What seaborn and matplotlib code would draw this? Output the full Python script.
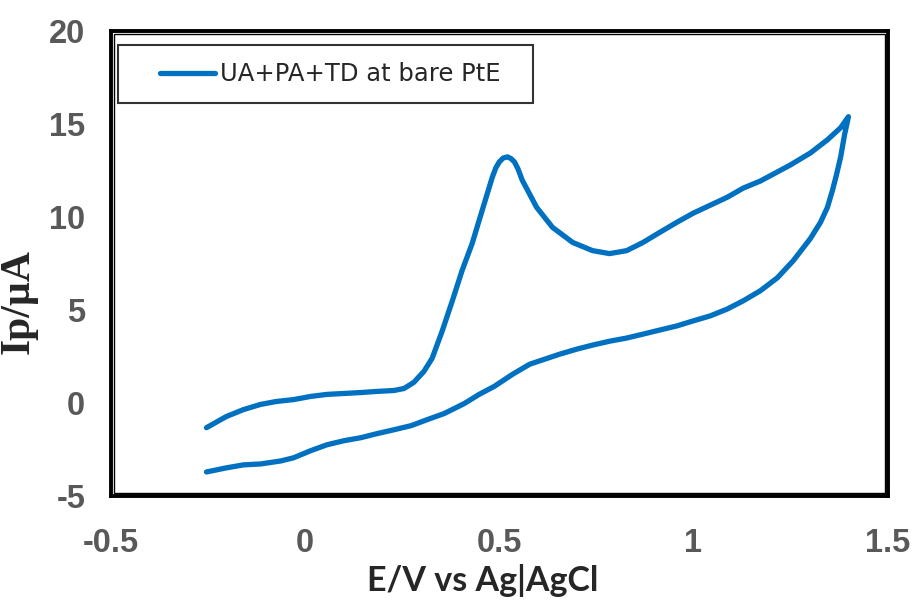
import pandas as pd
import matplotlib.pyplot as plt
import seaborn as sns
from matplotlib.patches import Rectangle
from matplotlib.lines import Line2D
from matplotlib.legend_handler import HandlerLine2D

# forward (anodic) scan
fwd_e = [-0.254, -0.203, -0.159, -0.115, -0.074, -0.030, 0.014, 0.056, 0.100, 0.143,
         0.185, 0.229, 0.255, 0.280, 0.306, 0.327, 0.353, 0.379, 0.404, 0.430,
         0.456, 0.482, 0.491, 0.500, 0.510, 0.521, 0.530, 0.539, 0.548, 0.559,
         0.596, 0.637, 0.689, 0.740, 0.784, 0.828, 0.870, 0.913, 0.957, 0.999,
         1.043, 1.087, 1.128, 1.172, 1.249, 1.301, 1.345, 1.379, 1.399]
fwd_i = [-1.32, -0.72, -0.35, -0.07, 0.09, 0.19, 0.36, 0.47, 0.52, 0.57,
         0.63, 0.68, 0.79, 1.12, 1.71, 2.41, 3.88, 5.50, 7.12, 8.58,
         10.37, 12.15, 12.65, 12.97, 13.18, 13.24, 13.15, 12.97, 12.60, 11.99,
         10.53, 9.45, 8.64, 8.20, 8.04, 8.20, 8.64, 9.18, 9.72, 10.21,
         10.64, 11.07, 11.56, 11.94, 12.80, 13.45, 14.16, 14.81, 15.40]

# reverse scan
rev_e = [1.389, 1.379, 1.368, 1.358, 1.345, 1.327, 1.301, 1.257, 1.216, 1.172,
         1.128, 1.087, 1.043, 0.999, 0.957, 0.913, 0.870, 0.828, 0.784, 0.740,
         0.699, 0.655, 0.578, 0.534, 0.487, 0.448, 0.410, 0.384, 0.358, 0.314,
         0.273, 0.229, 0.185, 0.143, 0.100, 0.056, 0.014, -0.030, -0.063, -0.115,
         -0.159, -0.203, -0.254]
rev_i = [14.43, 13.24, 12.26, 11.45, 10.53, 9.72, 8.85, 7.66, 6.74, 6.04,
         5.50, 5.06, 4.69, 4.42, 4.15, 3.93, 3.71, 3.50, 3.33, 3.12,
         2.90, 2.63, 2.09, 1.55, 0.90, 0.47, -0.02, -0.29, -0.56, -0.89,
         -1.21, -1.43, -1.64, -1.86, -2.02, -2.24, -2.56, -2.94, -3.11, -3.27,
         -3.32, -3.48, -3.70]

xticks = [-0.5, 0, 0.5, 1, 1.5]
xticklabels = ["-0.5", "0", "0.5", "1", "1.5"]
yticks = [-5, 0, 5, 10, 15, 20]
series_name = "UA+PA+TD at bare PtE"

df = pd.DataFrame({
    "E": fwd_e + rev_e,
    "I": fwd_i + rev_i,
    "series": series_name,
})

sns.set_style("white")
plt.rcParams["font.family"] = ["Liberation Sans", "DejaVu Sans"]
plt.rcParams["axes.unicode_minus"] = False

fig = plt.figure(figsize=(9.17, 6.11), dpi=100)
ax = fig.add_axes([0.121, 0.188, 0.847, 0.761])

sns.lineplot(data=df, x="E", y="I", hue="series", sort=False, estimator=None,
             palette=["#0070C0"], linewidth=3.8, ax=ax,
             solid_capstyle="round", solid_joinstyle="round")

ax.set_xlim(-0.5, 1.5)
ax.set_ylim(-5, 20)
ax.set_xticks(xticks)
ax.set_xticklabels(xticklabels)
ax.set_yticks(yticks)
ax.tick_params(axis="both", length=0, labelsize=23.5, labelcolor="#595959")
ax.tick_params(axis="x", pad=23)
ax.tick_params(axis="y", pad=18.5)
for lab in ax.get_xticklabels() + ax.get_yticklabels():
    lab.set_fontweight("bold")

# double frame like the original
for sp in ax.spines.values():
    sp.set_visible(True)
    sp.set_color("black")
    sp.set_linewidth(2.8)
ax.add_patch(Rectangle((0.004, 0.007), 0.992, 0.986, transform=ax.transAxes,
                       fill=False, edgecolor="black", linewidth=1, zorder=5))

ax.set_xlabel("E/V vs Ag|AgCl", fontsize=24.5, fontweight="bold", family="Lato")
ax.set_ylabel("Ip/µA", fontsize=30, fontweight="bold", family="Liberation Serif")
ax.xaxis.set_label_coords(0.479, -0.146)
ax.yaxis.set_label_coords(-0.094, 0.419)

handles, labels = ax.get_legend_handles_labels()
leg = ax.legend(handles, [series_name + "  "], loc="upper left",
                bbox_to_anchor=(0.009, 0.97), frameon=True, fancybox=False,
                edgecolor="black", handlelength=3.3, handletextpad=0.2,
                borderpad=0.7, borderaxespad=0,
                prop={"family": "DejaVu Sans", "size": 17.5},
                handler_map={Line2D: HandlerLine2D(xpad=1.03)})
leg.get_frame().set_linewidth(1.5)
leg.get_frame().set_boxstyle("square", pad=0)

fig.savefig("out.png", dpi=100)
